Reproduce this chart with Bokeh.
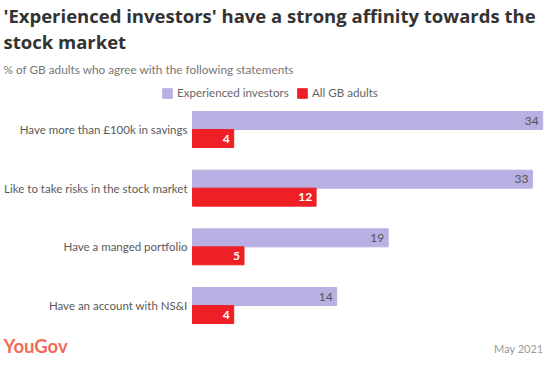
from bokeh.plotting import figure
from bokeh.models import ColumnDataSource, Range1d, Label, Legend, LegendItem
from bokeh.transform import dodge
from bokeh.core.properties import value
from bokeh.embed import file_html
from bokeh.resources import INLINE

# ---- data ----
categories = [
    "Have more than £100k in savings",
    "Like to take risks in the stock market",
    "Have a manged portfolio",
    "Have an account with NS&I",
]
experienced = [34, 33, 19, 14]
all_gb = [4, 12, 5, 4]
series_names = ["Experienced investors", "All GB adults"]
series_colors = ["#b8b0e2", "#ee2026"]

title_lines = ["'Experienced investors' have a strong affinity towards the", "stock market"]
subtitle = "% of GB adults who agree with the following statements"
source_text = "YouGov"
date_text = "May 2021"

# ---- layout constants ----
W, H = 544, 356
PX_PER_UNIT = 10.3
BAR_X0 = 192            # canvas px where value 0 sits
GROUP_Y0 = 129          # canvas px (from top) of first group centre
GROUP_STEP = 58.67      # px between groups
BAR_H_PX = 18

FONT = "Lato"
TITLE_FONT = "Open Sans"

x_start = -BAR_X0 / PX_PER_UNIT
x_end = (W - BAR_X0) / PX_PER_UNIT
y_bottom = (H - GROUP_Y0) / GROUP_STEP
y_top = -GROUP_Y0 / GROUP_STEP
bar_h = BAR_H_PX / GROUP_STEP

src = ColumnDataSource(dict(
    idx=list(range(len(categories))),
    cat=categories,
    exp=experienced,
    gb=all_gb,
    exp_lbl=[str(v) for v in experienced],
    gb_lbl=[str(v) for v in all_gb],
    zero=[0] * len(categories),
))

p = figure(width=W, height=H, output_backend="svg", toolbar_location=None,
           x_range=Range1d(x_start, x_end), y_range=Range1d(y_bottom, y_top),
           min_border=0, min_border_left=0, min_border_right=0,
           min_border_top=0, min_border_bottom=0)
p.axis.visible = False
p.grid.visible = False
p.outline_line_color = None
p.background_fill_color = "white"
p.border_fill_color = "white"

r_exp = p.hbar(y=dodge("idx", -bar_h / 2, range=p.y_range), left=0, right="exp",
               height=bar_h, color=series_colors[0], source=src)
r_gb = p.hbar(y=dodge("idx", bar_h / 2, range=p.y_range), left=0, right="gb",
              height=bar_h, color=series_colors[1], source=src)

# value labels
p.text(x="exp", y=dodge("idx", -bar_h / 2, range=p.y_range), text="exp_lbl", source=src,
       x_offset=-4, text_align="right", text_baseline="middle",
       text_font=value(FONT), text_font_size="12px", text_color="#555555")
p.text(x="gb", y=dodge("idx", bar_h / 2, range=p.y_range), text="gb_lbl", source=src,
       x_offset=-4, text_align="right", text_baseline="middle",
       text_font=value(FONT), text_font_size="12px", text_font_style="bold",
       text_color="white")

# category labels
p.text(x="zero", y="idx", text="cat", source=src, x_offset=-5,
       text_align="right", text_baseline="middle",
       text_font=value(FONT), text_font_size="11.5px", text_color="#5a5a5a")

# legends (one per item so each sits at its own place)
for r, name, lx in [(r_exp, series_names[0], 161), (r_gb, series_names[1], 296)]:
    lg = Legend(items=[LegendItem(label=name, renderers=[r])],
                location=(lx, H - 99), orientation="horizontal",
                glyph_width=12, glyph_height=12, label_height=12,
                label_standoff=4, padding=0, margin=0, spacing=0,
                border_line_color=None, background_fill_alpha=0,
                label_text_font=FONT, label_text_font_size="11.6px",
                label_text_color="#666666")
    p.add_layout(lg, "center")

# titles
p.add_layout(Label(x=3, y=H - 15, x_units="screen", y_units="screen",
                   text=title_lines[0], text_font=TITLE_FONT, text_font_size="18.5px",
                   text_font_style="bold", text_color="#333333",
                   text_baseline="middle"))
p.add_layout(Label(x=3, y=H - 40.5, x_units="screen", y_units="screen",
                   text=title_lines[1], text_font=TITLE_FONT, text_font_size="18.5px",
                   text_font_style="bold", text_color="#333333",
                   text_baseline="middle"))
p.add_layout(Label(x=3, y=H - 68.5, x_units="screen", y_units="screen",
                   text=subtitle, text_font=FONT, text_font_size="11.8px",
                   text_color="#777777", text_baseline="middle"))

# footer
p.add_layout(Label(x=3, y=H - 345.5, x_units="screen", y_units="screen",
                   text=source_text, text_font=FONT, text_font_size="18.5px",
                   text_font_style="bold", text_color="#f26a5b",
                   text_baseline="middle"))
p.add_layout(Label(x=543, y=H - 348, x_units="screen", y_units="screen",
                   text=date_text, text_font=FONT, text_font_size="11px",
                   text_color="#999999", text_baseline="middle",
                   text_align="right"))

open("out.html", "w").write(file_html(p, INLINE))
